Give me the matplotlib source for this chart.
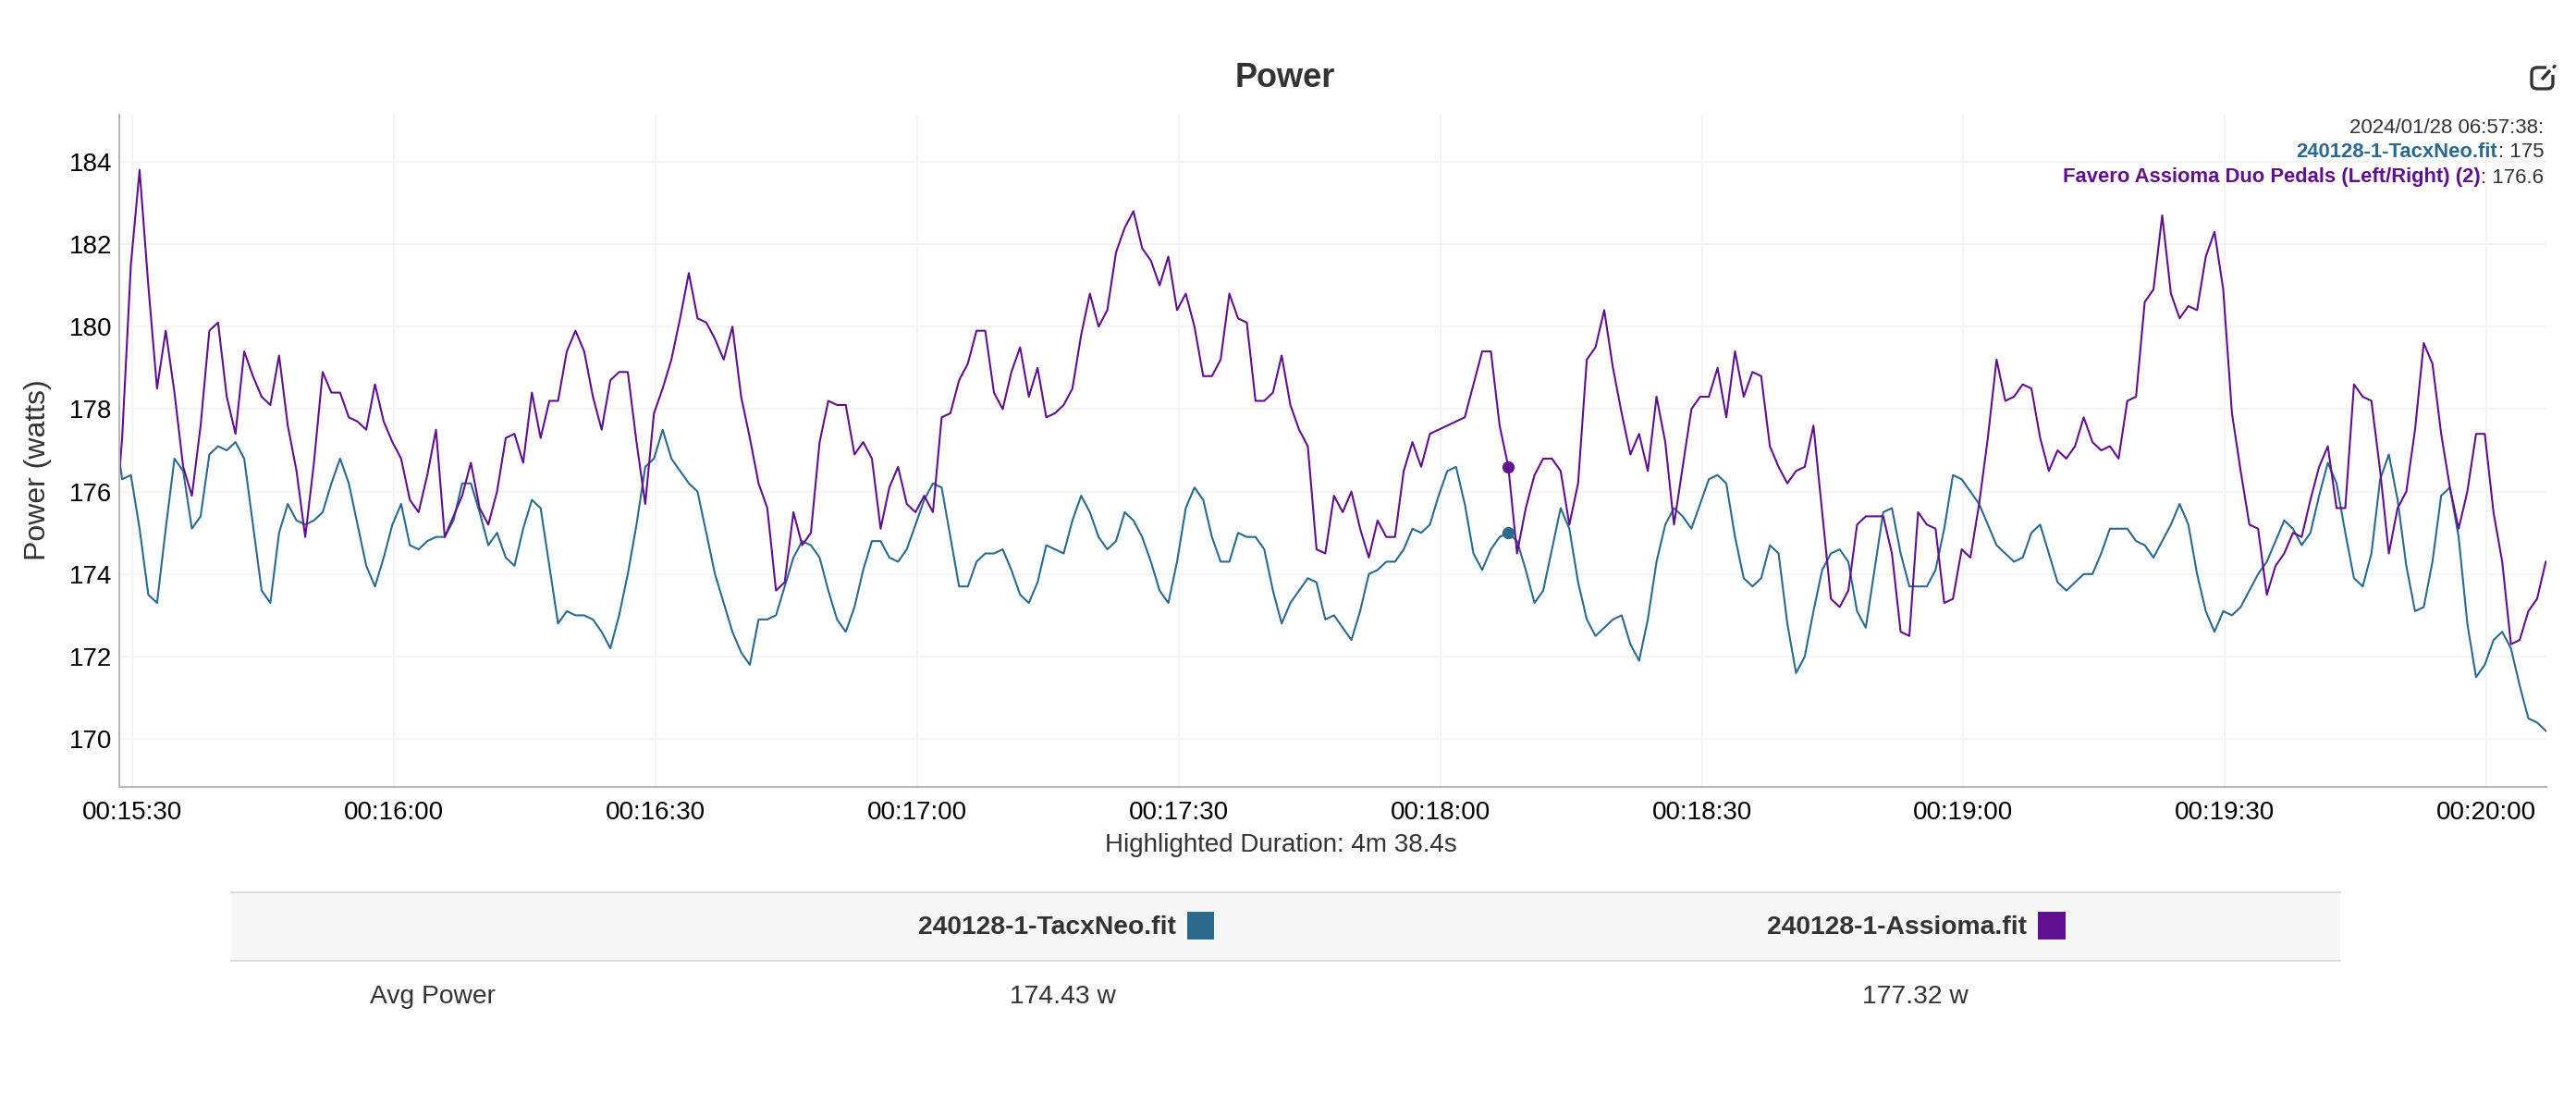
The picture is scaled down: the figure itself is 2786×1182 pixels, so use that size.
import numpy as np
import matplotlib
matplotlib.use('Agg')
import matplotlib.pyplot as plt
from matplotlib.patches import Rectangle, FancyBboxPatch

plt.rcParams['font.family'] = ['Liberation Sans', 'DejaVu Sans']

# Effekt per sekund, lest av bildet
tacx_power = [
    177.8,176.3,176.4,175.1,173.5,173.3,175.1,176.8,176.5,175.1,
    175.4,176.9,177.1,177.0,177.2,176.8,175.2,173.6,173.3,175.0,
    175.7,175.3,175.2,175.3,175.5,176.2,176.8,176.2,175.2,174.2,
    173.7,174.4,175.2,175.7,174.7,174.6,174.8,174.9,174.9,175.3,
    176.2,176.2,175.5,174.7,175.0,174.4,174.2,175.1,175.8,175.6,
    174.2,172.8,173.1,173.0,173.0,172.9,172.6,172.2,173.0,174.0,
    175.2,176.6,176.8,177.5,176.8,176.5,176.2,176.0,175.0,174.0,
    173.3,172.6,
    172.1,171.8,172.9,172.9,173.0,173.7,174.4,174.8,174.7,174.4,
    173.6,172.9,172.6,173.2,174.1,174.8,174.8,174.4,174.3,174.6,
    175.2,175.8,176.2,176.1,174.9,173.7,173.7,174.3,174.5,174.5,
    174.6,174.1,173.5,173.3,173.8,174.7,174.6,174.5,175.3,175.9,
    175.5,174.9,174.6,174.8,175.5,175.3,174.9,174.3,173.6,173.3,
    174.3,175.6,176.1,175.8,174.9,174.3,174.3,175.0,174.9,174.9,
    174.6,173.6,172.8,173.3,173.6,173.9,173.8,172.9,173.0,172.7,
    172.4,173.1,174.0,
    174.1,174.3,174.3,174.6,175.1,175.0,175.2,175.9,176.5,176.6,
    175.7,174.5,174.1,174.6,174.9,175.0,174.8,174.1,173.3,173.6,
    174.6,175.6,175.1,173.8,172.9,172.5,172.7,172.9,173.0,172.3,
    171.9,172.9,174.3,175.2,175.6,175.4,175.1,175.7,176.3,176.4,
    176.2,174.9,173.9,173.7,173.9,174.7,174.5,172.8,171.6,172.0,
    173.1,174.1,174.5,174.6,174.3,173.1,172.7,174.1,175.5,175.6,
    174.5,173.7,173.7,173.7,174.1,175.1,176.4,176.3,176.0,175.7,
    175.2,174.7,174.5,174.3,174.4,175.0,175.2,174.5,173.8,173.6,
    173.8,174.0,174.0,174.5,175.1,175.1,175.1,174.8,174.7,174.4,
    174.8,175.2,175.7,175.2,174.0,173.1,172.6,173.1,173.0,173.2,
    173.6,174.0,174.3,174.8,175.3,175.1,174.7,175.0,175.9,176.7,
    176.2,175.0,173.9,173.7,174.5,176.3,176.9,175.8,174.2,173.1,
    173.2,174.3,175.9,176.1,174.9,172.8,171.5,171.8,172.4,172.6,
    172.2,171.3,170.5,170.4,170.2,
]
assioma_power = [
    174.6,177.3,181.5,183.8,181.0,178.5,179.9,178.4,176.6,175.9,
    177.6,179.9,180.1,178.3,177.4,179.4,178.8,178.3,178.1,179.3,
    177.6,176.5,174.9,176.7,178.9,178.4,178.4,177.8,177.7,177.5,
    178.6,177.7,177.2,176.8,175.8,175.5,176.4,177.5,174.9,175.4,
    175.9,176.7,175.6,175.2,176.0,177.3,177.4,176.7,178.4,177.3,
    178.2,178.2,179.4,179.9,179.4,178.3,177.5,178.7,178.9,178.9,
    177.2,175.7,177.9,178.5,179.2,180.2,181.3,180.2,180.1,179.7,
    179.2,180.0,
    178.3,177.3,176.2,175.6,173.6,173.8,175.5,174.7,175.0,177.2,
    178.2,178.1,178.1,176.9,177.2,176.8,175.1,176.1,176.6,175.7,
    175.5,175.9,175.5,177.8,177.9,178.7,179.1,179.9,179.9,178.4,
    178.0,178.9,179.5,178.3,179.0,177.8,177.9,178.1,178.5,179.8,
    180.8,180.0,180.4,181.8,182.4,182.8,181.9,181.6,181.0,181.7,
    180.4,180.8,180.0,178.8,178.8,179.2,180.8,180.2,180.1,178.2,
    178.2,178.4,179.3,178.1,177.5,177.1,174.6,174.5,175.9,175.5,
    176.0,175.1,174.4,
    175.3,174.9,174.9,176.5,177.2,176.6,177.4,177.5,177.6,177.7,
    177.8,178.6,179.4,179.4,177.6,176.6,174.5,175.6,176.4,176.8,
    176.8,176.5,175.2,176.2,179.2,179.5,180.4,179.0,177.9,176.9,
    177.4,176.5,178.3,177.2,175.2,176.6,178.0,178.3,178.3,179.0,
    177.8,179.4,178.3,178.9,178.8,177.1,176.6,176.2,176.5,176.6,
    177.6,175.5,173.4,173.2,173.6,175.2,175.4,175.4,175.4,174.5,
    172.6,172.5,175.5,175.2,175.1,173.3,173.4,174.6,174.4,175.7,
    177.3,179.2,178.2,178.3,178.6,178.5,177.3,176.5,177.0,176.8,
    177.1,177.8,177.2,177.0,177.1,176.8,178.2,178.3,180.6,180.9,
    182.7,180.8,180.2,180.5,180.4,181.7,182.3,180.9,177.9,176.5,
    175.2,175.1,173.5,174.2,174.5,175.0,174.9,175.8,176.6,177.1,
    175.6,175.6,178.6,178.3,178.2,176.5,174.5,175.6,176.0,177.5,
    179.6,179.1,177.4,176.1,175.1,176.0,177.4,177.4,175.5,174.3,
    172.3,172.4,173.1,173.4,174.3,
]

first_second = 927.81
highlight = 160
y_ticks = [170, 172, 174, 176, 178, 180, 182, 184]
x_ticks = [930, 960, 990, 1020, 1050, 1080, 1110, 1140, 1170, 1200]
x_labels = ['00:15:30', '00:16:00', '00:16:30', '00:17:00', '00:17:30',
            '00:18:00', '00:18:30', '00:19:00', '00:19:30', '00:20:00']

BLUE = '#2b6a8d'
PURPLE = '#5f108c'
DARK = '#333333'
W, H = 2786, 1182

t = first_second + np.arange(len(tacx_power))

fig = plt.figure(figsize=(W / 100, H / 100), dpi=100)
ax = fig.add_axes([129 / W, 1 - 850.5 / H, (2754 - 129) / W, (850.5 - 124) / H])

ax.plot(t, tacx_power, color=BLUE, lw=1.5)
ax.plot(t, assioma_power, color=PURPLE, lw=1.5)
ax.plot(t[highlight], tacx_power[highlight], 'o', color=BLUE, ms=8.5)
ax.plot(t[highlight], assioma_power[highlight], 'o', color=PURPLE, ms=8.5)

ax.set_xlim(928.48, 1206.88)
ax.set_ylim(168.85, 185.14)
ax.set_xticks(x_ticks, x_labels)
ax.set_yticks(y_ticks)
ax.tick_params(length=0, labelsize=20, labelcolor='black')
ax.tick_params(axis='x', pad=11)
ax.tick_params(axis='y', pad=5.5)
ax.grid(color='#f4f4f4', lw=1.4)
ax.set_axisbelow(True)
for side in ['top', 'right']:
    ax.spines[side].set_visible(False)
for side in ['left', 'bottom']:
    ax.spines[side].set_color('#b8b8b8')
    ax.spines[side].set_linewidth(1.5)

# Alt utenfor selve grafen tegnes i pikselkoordinater
over = fig.add_axes([0, 0, 1, 1], facecolor='none')
over.set_xlim(0, W)
over.set_ylim(H, 0)
over.axis('off')

over.text(1390, 85, 'Power', fontsize=26, fontweight='bold', color=DARK, ha='center', va='center')
over.text(41, 508, 'Power (watts)', fontsize=23, color=DARK, rotation=90, ha='center', va='center')
over.text(1385, 914, 'Highlighted Duration: 4m 38.4s', fontsize=20, color=DARK, ha='center', va='center')

# Verktøytips oppe til høyre
renderer = fig.canvas.get_renderer()
tooltip = [('', '2024/01/28 06:57:38:', DARK),
           ('240128-1-TacxNeo.fit', ': 175', BLUE),
           ('Favero Assioma Duo Pedals (Left/Right) (2)', ': 176.6', PURPLE)]
for i, (name, rest, col) in enumerate(tooltip):
    y = 138 + 27 * i
    txt = over.text(2751, y, rest, fontsize=16, color=DARK, ha='right', va='center')
    if name:
        left = txt.get_window_extent(renderer).x0
        over.text(left, y, name, fontsize=15.8, fontweight='bold', color=col, ha='right', va='center')

# Redigeringsikon
over.add_patch(FancyBboxPatch((2738, 73), 23, 23, boxstyle='round,pad=0,rounding_size=6',
                              fc='none', ec=DARK, lw=2.4))
over.add_patch(Rectangle((2754, 68), 12, 13, fc='white', ec='none'))
over.plot([2749, 2758], [86, 76], color=DARK, lw=2.6, solid_capstyle='butt')
over.plot([2762, 2763], [72.5, 71.5], color=DARK, lw=2.4, solid_capstyle='round')

# Tabell under grafen
over.add_patch(Rectangle((250, 965), 2281, 74, fc='#f7f7f7', ec='none'))
over.plot([250, 2531], [965, 965], color='#dddddd', lw=1.5)
over.plot([250, 2531], [1039, 1039], color='#dddddd', lw=1.5)
over.text(1272, 1003, '240128-1-TacxNeo.fit', fontsize=20.3, fontweight='bold', color=DARK, ha='right', va='center')
over.text(2192, 1003, '240128-1-Assioma.fit', fontsize=20.3, fontweight='bold', color=DARK, ha='right', va='center')
over.add_patch(Rectangle((1284, 986), 29, 30, fc=BLUE, ec='none'))
over.add_patch(Rectangle((2204, 986), 30, 30, fc=PURPLE, ec='none'))
over.text(468, 1078, 'Avg Power', fontsize=20.3, color=DARK, ha='center', va='center')
over.text(1149, 1078, '174.43 w', fontsize=20.3, color=DARK, ha='center', va='center')
over.text(2071, 1078, '177.32 w', fontsize=20.3, color=DARK, ha='center', va='center')

fig.savefig('out.png', dpi=100)
